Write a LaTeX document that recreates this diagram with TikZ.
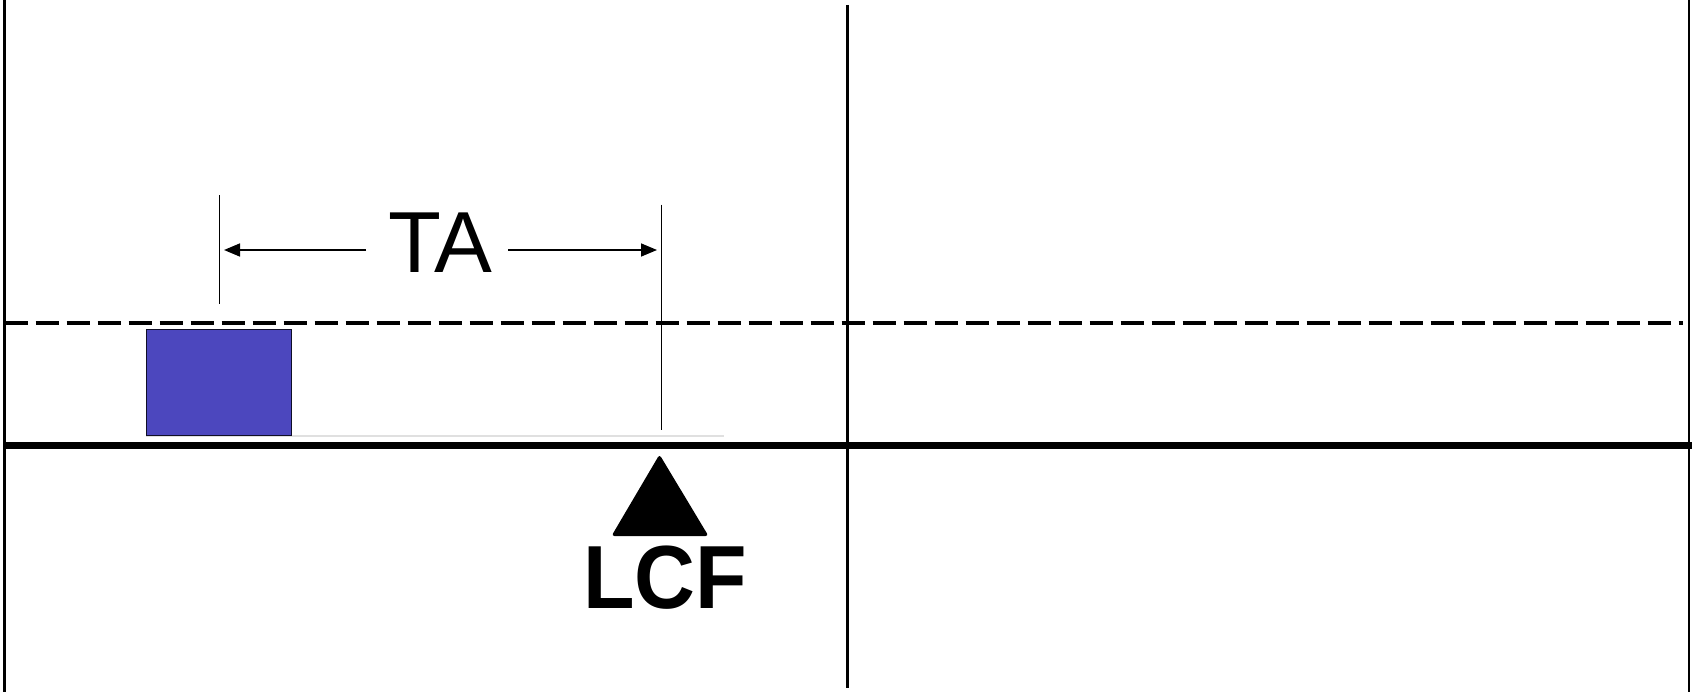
\documentclass[tikz,border=0pt]{standalone}
\usepackage{graphicx}
\usepackage{fontspec}
\setmainfont{Liberation Sans}
\usetikzlibrary{arrows.meta}
\definecolor{boxblue}{RGB}{76,71,190}
\tikzset{
  frame/.style={line width=2.5bp, black},
  rail/.style={line width=7bp, black},
  waterline/.style={line width=4bp, black, dash pattern=on 23bp off 8bp},
  tick/.style={line width=1bp, black},
  dimarrow/.style={line width=1.6bp, black, -{Triangle[length=16bp,width=13bp]}},
  lbl/.style={inner sep=0pt, anchor=center},
}
\begin{document}
\begin{tikzpicture}[x=1bp,y=-1bp]
\useasboundingbox (0,0) rectangle (1697,692);
% frame verticals
\draw[frame] (4.5,0) -- (4.5,692);
\draw[frame] (847.5,5) -- (847.5,688);
\draw[frame] (1689,0) -- (1689,692);
% dashed line
\draw[waterline] (4.5,323) -- (1683,323);
% faint line under the box
\draw[line width=1.2bp, black!12] (146,436) -- (724,436);
% thick base line
\draw[rail] (4.5,445.3) -- (1692,445.3);
% blue box
\draw[fill=boxblue, draw=black!80!boxblue, line width=0.8bp] (146,329.5) rectangle (291.5,435.5);
% ticks
\coordinate (lt1) at (219.7,195);
\coordinate (lt2) at (219.7,304);
\coordinate (rt1) at (661.5,204.5);
\coordinate (rt2) at (661.5,430);
\draw[tick] (lt1) -- (lt2);
\draw[tick] (rt1) -- (rt2);
% TA
\node[lbl, font=\fontsize{87}{87}\selectfont] (ta) at (440.5,243) {TA};
\coordinate (la) at (224,250);
\coordinate (ra) at (657,250);
\draw[dimarrow] (366,250) -- (la);
\draw[dimarrow] (508,250) -- (ra);
% LCF triangle
\fill[rounded corners=3bp] (659.5,454.5) -- (708.5,536) -- (611.5,536) -- cycle;
\node[lbl, font=\bfseries\fontsize{90}{90}\selectfont] (lcf) at (665,577.5) {\scalebox{0.94}[1]{LCF}};
\end{tikzpicture}
\end{document}
